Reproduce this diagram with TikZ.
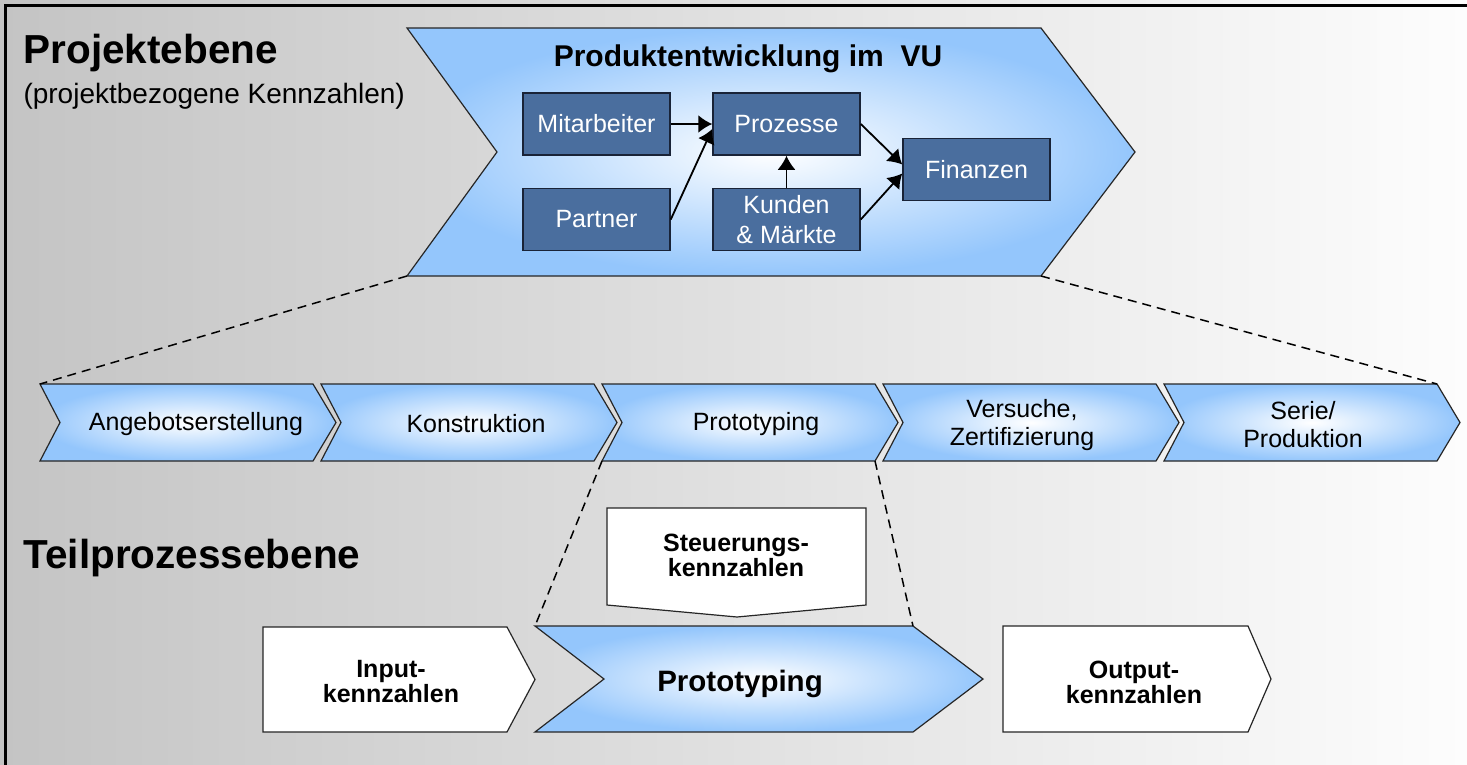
\documentclass[tikz,border=0pt]{standalone}
\usepackage{fontspec}
\setmainfont{Liberation Sans}
\usetikzlibrary{arrows.meta}

\definecolor{chevblue}{RGB}{148,198,252}
\definecolor{boxblue}{RGB}{74,110,158}
\definecolor{boxedge}{RGB}{25,35,55}
\definecolor{bgleft}{RGB}{196,196,196}
\definecolor{bgright}{RGB}{253,253,253}

\tikzset{
  chevfill/.style={draw=black!85, line width=1.2pt, inner color=white, outer color=chevblue},
  whitefill/.style={draw=black!85, line width=1.2pt, fill=white},
  kbox/.style={draw=boxedge, line width=1.5pt, fill=boxblue, text=white,
    minimum width=147pt, minimum height=62pt, inner sep=0pt, align=center,
    font=\fontsize{25}{30}\selectfont},
  link/.style={line width=1.8pt, -{Latex[length=14pt,width=18pt]}},
  zoomline/.style={line width=1.5pt, dash pattern=on 9pt off 6pt},
  steplabel/.style={align=center, font=\fontsize{25}{28}\selectfont},
  kzlabel/.style={align=center, font=\bfseries\fontsize{25}{25}\selectfont},
  levellabel/.style={anchor=base west, font=\bfseries\fontsize{40.5}{44}\selectfont},
}

% chevron outline: style, name, x, y, top length, height, tip depth, notch depth
\newcommand{\chevronpath}[8]{%
  \path[#1] (#3,#4) coordinate (#2-nw) -- ++(#5,0) coordinate (#2-ne)
    -- ++(#7,#6/2) coordinate (#2-tip) -- ++(-#7,#6/2) coordinate (#2-se)
    -- ++(-#5,0) coordinate (#2-sw) -- ++(#8,-#6/2) coordinate (#2-notch) -- cycle;}

\begin{document}
\begin{tikzpicture}[x=1pt,y=-1pt]
\useasboundingbox (0,0) rectangle (1467,764);
\fill[left color=bgleft, right color=bgright] (0,0) rectangle (1467,764);
\draw[line width=3pt] (5,766) -- (5,5) -- (1469,5);

% level captions
\node[levellabel] (lvlA) at (20,63) {Projektebene};
\node[anchor=base west, font=\fontsize{28}{30}\selectfont] (lvlAsub) at (20,103) {(projektbezogene Kennzahlen)};
\node[levellabel] (lvlB) at (20,568) {Teilprozessebene};

% project level
\chevronpath{chevfill}{big}{407}{28}{634}{248}{94}{90}
\node[anchor=base, font=\bfseries\fontsize{30}{32}\selectfont] (title) at (748,66) {Produktentwicklung im\ \ VU};

\node[kbox] (mit) at (596.5,124) {Mitarbeiter};
\node[kbox] (proz) at (786.5,124) {Prozesse};
\node[kbox] (part) at (596.5,219.5) {Partner};
\node[kbox] (kund) at (786.5,219.5) {Kunden\\\& Märkte};
\node[kbox] (fin) at (976.5,169.5) {Finanzen};

\draw[link] (mit.east) -- (proz.west);
\draw[link] (part.east) -- ([yshift=-5pt]proz.west);
\draw[link] (kund.north) -- (proz.south);
\draw[link] (proz.east) -- ([yshift=5pt]fin.west);
\draw[link] (kund.east) -- ([yshift=-4pt]fin.west);

% process steps
\chevronpath{chevfill}{pa}{40}{384}{273}{77}{23}{20}
\chevronpath{chevfill}{pb}{321}{384}{273}{77}{23}{20}
\chevronpath{chevfill}{pc}{602}{384}{273}{77}{23}{20}
\chevronpath{chevfill}{pd}{883}{384}{273}{77}{23}{20}
\chevronpath{chevfill}{pe}{1164}{384}{273}{77}{23}{20}

\node[steplabel] (ta) at (196,424) {Angebotserstellung};
\node[steplabel] (tb) at (476,424) {Konstruktion};
\node[steplabel] (tc) at (756,424) {Prototyping};
\node[steplabel] (td) at (1022,425) {Versuche,\\Zertifizierung};
\node[steplabel] (te) at (1303,425) {Serie/\\Produktion};

\draw[zoomline] (big-sw) -- (pa-nw);
\draw[zoomline] (big-se) -- (pe-ne);

% sub-process level
\chevronpath{whitefill}{inp}{263}{627}{244}{105}{28}{0}
\chevronpath{chevfill}{proto}{535}{626}{378}{106}{70}{69}
\chevronpath{whitefill}{outp}{1003}{626}{245}{106}{23}{0}
\path[whitefill] (607,508) coordinate (st-nw) -- (866,508) coordinate (st-ne)
  -- (866,605) -- (737,617) coordinate (st-tip) -- (607,605) -- cycle;

\draw[zoomline] (pc-sw) -- (proto-nw);
\draw[zoomline] (pc-se) -- (proto-ne);

\node[kzlabel] (stk) at (736,555) {Steuerungs-\\kennzahlen};
\node[kzlabel] (ink) at (391,682) {Input-\\kennzahlen};
\node[kzlabel] (outk) at (1134,682) {Output-\\kennzahlen};
\node[font=\bfseries\fontsize{29.5}{32}\selectfont] (protok) at (740,684) {Prototyping};
\end{tikzpicture}
\end{document}
